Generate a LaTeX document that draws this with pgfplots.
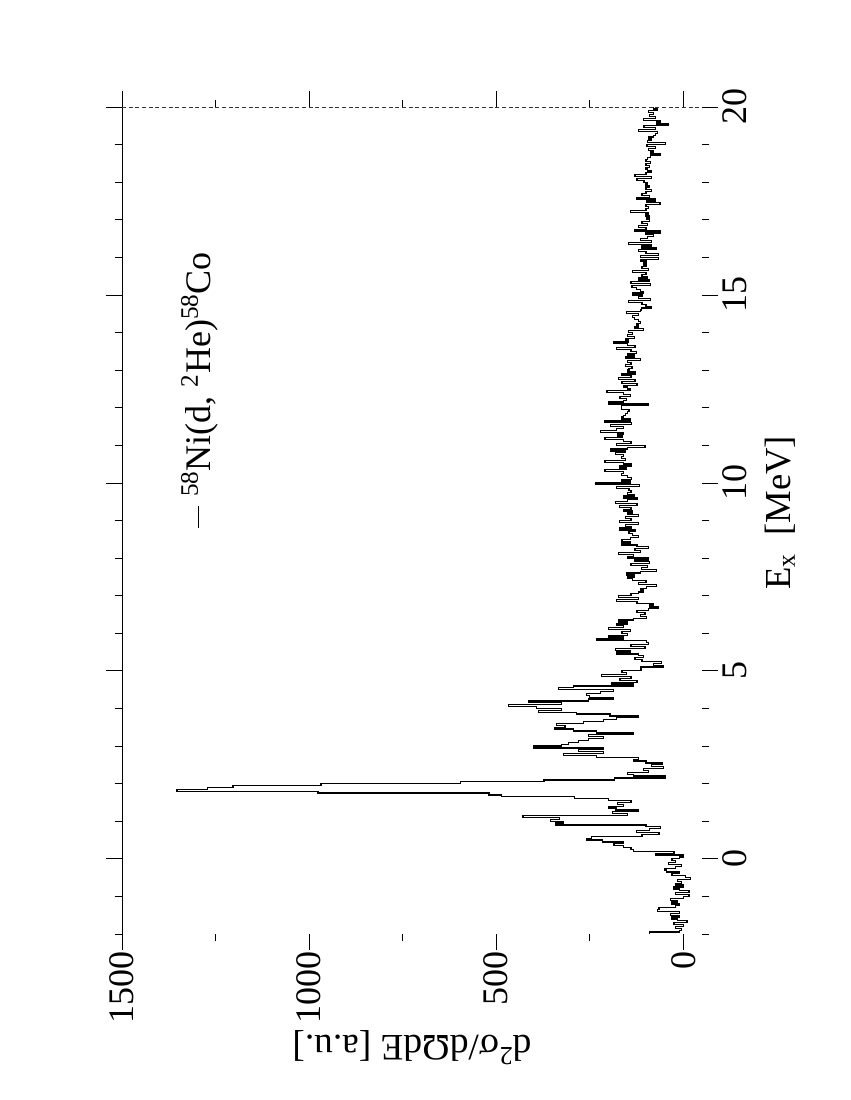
\documentclass[border=0pt]{standalone}
\usepackage{pgfplots}
\pgfplotsset{compat=1.18}
\usepackage{fontspec}
\setmainfont{Liberation Serif}
\begin{document}
\begin{tikzpicture}
\path[use as bounding box] (0,0) rectangle (637.5pt,825pt);
\begin{axis}[
  at={(91.5pt,124.5pt)}, anchor=south west,
  scale only axis, width=435pt, height=620.25pt,
  x dir=reverse, xmin=-50, xmax=1500, ymin=-2, ymax=20,
  xtick={0,500,1000,1500}, minor xtick={250,750,1250},
  ytick={0,5,10,15,20}, minor ytick={-2,-1,...,20},
  xtick pos=both, ytick pos=both,
  tick align=outside, major tick length=12pt, minor tick length=5.5pt,
  tick style={black, line width=0.6pt},
  yticklabel pos=right,
  axis line style={draw=none},
  /pgf/number format/1000 sep={},
  /pgf/number format/assume math mode=true,
  tick label style={font=\fontsize{27}{30}\selectfont},
  xticklabel style={rotate=90, anchor=east, inner sep=1pt},
  yticklabel style={rotate=90, anchor=north},
]
\addplot[black, line width=0.95pt, const plot mark right, mark=none]
 table[row sep=\\, x index=0, y expr=\coordindex*0.05-2] {
c\\
90\\ 10\\ 5\\ 20\\ 0\\ 25\\ -10\\ 15\\ 30\\ 10\\ 35\\ 10\\ 69\\ 65\\ 20\\ 10\\ 30\\ 15\\ 35\\ 0\\
-15\\ 20\\ -15\\ 10\\ 25\\ 0\\ 20\\ 5\\ 15\\ -20\\ -5\\ 30\\ 10\\ 45\\ 50\\ 20\\ 5\\ 40\\ 20\\ 30\\
10\\ 0\\ 75\\ 25\\ 133\\ 140\\ 160\\ 185\\ 160\\ 215\\ 257\\ 245\\ 110\\ 65\\ 125\\ 90\\ 60\\ 100\\ 340\\ 320\\
355\\ 330\\ 428\\ 150\\ 190\\ 120\\ 180\\ 200\\ 160\\ 175\\ 140\\ 200\\ 290\\ 485\\ 519\\ 976\\ 1353\\ 1272\\ 1203\\ 968\\
596\\ 372\\ 184\\ 48\\ 133\\ 150\\ 93\\ 107\\ 53\\ 84\\ 55\\ 100\\ 133\\ 120\\ 231\\ 320\\ 213\\ 280\\ 213\\ 401\\
325\\ 307\\ 280\\ 254\\ 213\\ 254\\ 133\\ 231\\ 294\\ 343\\ 316\\ 338\\ 267\\ 213\\ 178\\ 120\\ 196\\ 285\\ 387\\ 325\\
392\\ 467\\ 325\\ 414\\ 254\\ 187\\ 250\\ 258\\ 222\\ 187\\ 334\\ 294\\ 133\\ 191\\ 124\\ 169\\ 140\\ 218\\ 151\\ 164\\
111\\ 115\\ 53\\ 80\\ 58\\ 110\\ 129\\ 107\\ 120\\ 178\\ 142\\ 182\\ 102\\ 140\\ 93\\ 98\\ 231\\ 160\\ 200\\ 150\\
164\\ 142\\ 200\\ 160\\ 178\\ 150\\ 173\\ 133\\ 98\\ 115\\ 102\\ 124\\ 93\\ 66\\ 90\\ 80\\ 124\\ 178\\ 120\\ 173\\
140\\ 120\\ 107\\ 115\\ 98\\ 71\\ 120\\ 100\\ 135\\ 150\\ 130\\ 151\\ 115\\ 71\\ 111\\ 95\\ 140\\ 90\\ 129\\ 93\\
150\\ 133\\ 173\\ 115\\ 129\\ 93\\ 124\\ 164\\ 142\\ 164\\ 142\\ 120\\ 135\\ 145\\ 129\\ 170\\ 140\\ 155\\ 120\\ 170\\
140\\ 155\\ 120\\ 150\\ 135\\ 160\\ 140\\ 170\\ 124\\ 182\\ 150\\ 124\\ 160\\ 130\\ 150\\ 140\\ 145\\ 178\\ 117\\ 233\\
142\\ 164\\ 138\\ 150\\ 165\\ 160\\ 209\\ 151\\ 170\\ 140\\ 160\\ 209\\ 155\\ 165\\ 160\\ 182\\ 155\\ 195\\ 150\\ 102\\
178\\ 140\\ 160\\ 209\\ 164\\ 175\\ 160\\ 222\\ 178\\ 160\\ 195\\ 138\\ 209\\ 142\\ 165\\ 160\\ 155\\ 150\\ 145\\ 165\\
165\\ 93\\ 200\\ 160\\ 151\\ 169\\ 142\\ 160\\ 204\\ 142\\ 150\\ 160\\ 124\\ 164\\ 129\\ 173\\ 140\\ 164\\ 129\\ 150\\
145\\ 137\\ 155\\ 140\\ 150\\ 115\\ 155\\ 130\\ 150\\ 125\\ 140\\ 179\\ 129\\ 150\\ 186\\ 146\\ 155\\ 130\\ 150\\ 135\\
146\\ 106\\ 130\\ 120\\ 125\\ 115\\ 120\\ 130\\ 135\\ 120\\ 151\\ 115\\ 111\\ 84\\ 100\\ 110\\ 146\\ 88\\ 120\\ 110\\
135\\ 106\\ 115\\ 125\\ 137\\ 88\\ 140\\ 90\\ 120\\ 95\\ 110\\ 100\\ 135\\ 93\\ 110\\ 100\\ 105\\ 100\\ 115\\ 66\\
115\\ 66\\ 100\\ 120\\ 71\\ 111\\ 84\\ 146\\ 84\\ 115\\ 95\\ 80\\ 100\\ 62\\ 129\\ 100\\ 120\\ 95\\ 110\\ 90\\
98\\ 90\\ 100\\ 93\\ 142\\ 100\\ 93\\ 100\\ 62\\ 97\\ 75\\ 124\\ 90\\ 110\\ 100\\ 85\\ 100\\ 90\\ 100\\ 95\\
105\\ 124\\ 84\\ 129\\ 100\\ 84\\ 95\\ 100\\ 90\\ 100\\ 88\\ 100\\ 95\\ 88\\ 62\\ 88\\ 80\\ 92\\ 75\\ 97\\
48\\ 95\\ 85\\ 92\\ 80\\ 75\\ 68\\ 120\\ 75\\ 105\\ 39\\ 71\\ 60\\ 106\\ 75\\ 90\\ 80\\ 92\\ 70\\ 80\\
80\\
};
\draw[black, line width=0.7pt] (axis description cs:0,0) -- (axis description cs:1,0);
\draw[black, line width=0.7pt] (axis description cs:0,0) -- (axis description cs:0,1);
\draw[black, line width=0.5pt] (axis description cs:1,0) -- (axis description cs:1,1);
\draw[black!80, densely dashed, line width=0.6pt] (axis description cs:0,1) -- (axis description cs:1,1);
\end{axis}
\node[rotate=90, anchor=base, font=\fontsize{27.5}{30}\selectfont] at (592.5pt,440.25pt) {E\textsubscript{x}\ \ [MeV]};
\node[rotate=90, anchor=base, font=\fontsize{27}{30}\selectfont] at (157.5pt,532.5pt) {\rule[0.3em]{16.5pt}{0.7pt}\ \textsuperscript{58}Ni(d, \textsuperscript{2}He)\textsuperscript{58}Co};
\node[rotate=180, anchor=base, font=\fontsize{28}{31}\selectfont] at (309pt,48.5pt) {d\textsuperscript{2}σ/dΩdE [a.u.]};
\end{tikzpicture}
\end{document}
